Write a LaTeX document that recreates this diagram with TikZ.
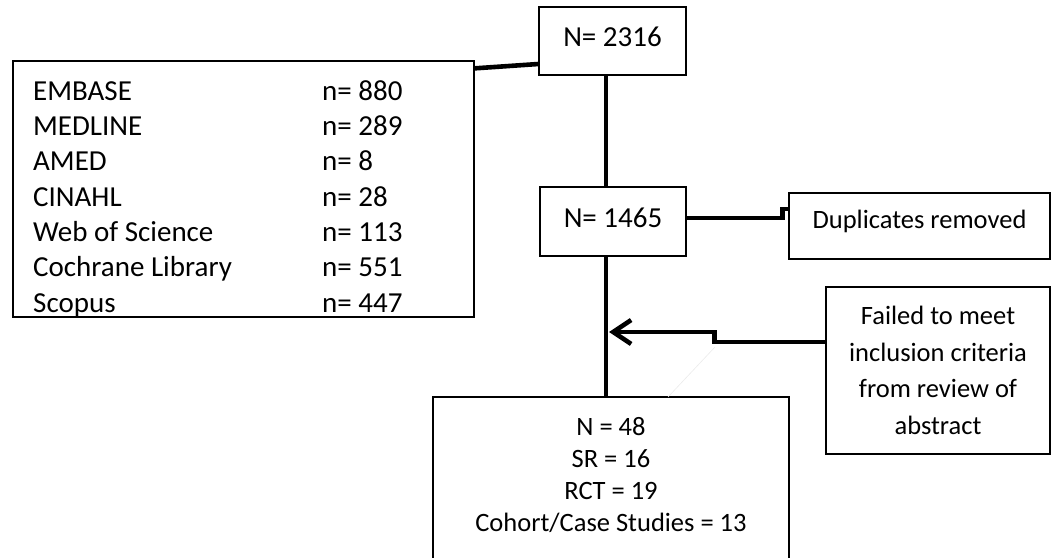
\documentclass[tikz,border=0pt]{standalone}
\usepackage{fontspec}
\setmainfont{Carlito}
\usetikzlibrary{arrows.meta}
\begin{document}
\begin{tikzpicture}[x=1pt,y=-1pt,
  box/.style={draw=black, line width=1.3pt, inner sep=0pt, rectangle},
  conn/.style={draw=black, line width=4.6pt},
  txt/.style={font=\fontsize{26.5}{32}\selectfont, inner sep=0pt},
  bigtxt/.style={font=\fontsize{29}{35}\selectfont, inner sep=0pt},
  faint/.style={draw=black!8, line width=0.6pt}
]
\useasboundingbox (0,0) rectangle (1056,557);

% boxes
\node[box, minimum width=461pt, minimum height=256pt] (src) at (243.5,189) {};
\node[box, bigtxt, minimum width=147pt, minimum height=68pt, text depth=8pt] (n1) at (612.5,41) {N= 2316};
\node[box, bigtxt, minimum width=146pt, minimum height=69pt, text depth=8pt] (n2) at (613,221.5) {N= 1465};
\node[box, txt, minimum width=261pt, minimum height=66pt, text depth=14pt] (dup) at (919.5,226) {Duplicates removed};
\node[box, txt, minimum width=224pt, minimum height=167pt, align=center,
      font=\fontsize{26.5}{36.5}\selectfont] (fail) at (938,370.5)
      {Failed to meet\\inclusion criteria\\from review of\\abstract};
\node[box, minimum width=356pt, minimum height=200pt] (res) at (611,497) {};

% source list
\foreach \dbname/\dbn [count=\i from 0] in {EMBASE/880, MEDLINE/289, AMED/8, CINAHL/28,
    Web of Science/113, Cochrane Library/551, Scopus/447}{
  \node[bigtxt, anchor=base west] (db\i) at (33,{100.3+35.3*\i}) {\dbname};
  \node[bigtxt, anchor=base west] (dn\i) at (322,{100.3+35.3*\i}) {n= \dbn};
}

% result text
\foreach \line [count=\i from 0] in {N = 48, SR = 16, RCT = 19, Cohort/Case Studies = 13}{
  \node[txt, anchor=base] (r\i) at (611,{435.5+32*\i}) {\line};
}

% connectors
\draw[conn] ([yshift=-8pt]src.north east) -- ([yshift=-23pt]n1.west);
\draw[conn] ([xshift=-6.5pt]n1.south) -- ([xshift=-7pt]n2.north);
\draw[conn] ([xshift=-7pt]n2.south) -- ([xshift=-5pt]res.north);
\draw[conn] ([yshift=3.5pt]n2.east) -- ++(96,0) -- ++(0,-9) -- ([yshift=17pt]dup.west);
\coordinate (hit) at (609,332);
\draw[conn, -{Straight Barb[length=18pt, width=24pt]}]
  ([yshift=28.5pt]fail.west) -- ++(-111,0) -- ++(0,-10) -- (hit);
\draw[faint] (715,347) -- (668,397);
\end{tikzpicture}
\end{document}
